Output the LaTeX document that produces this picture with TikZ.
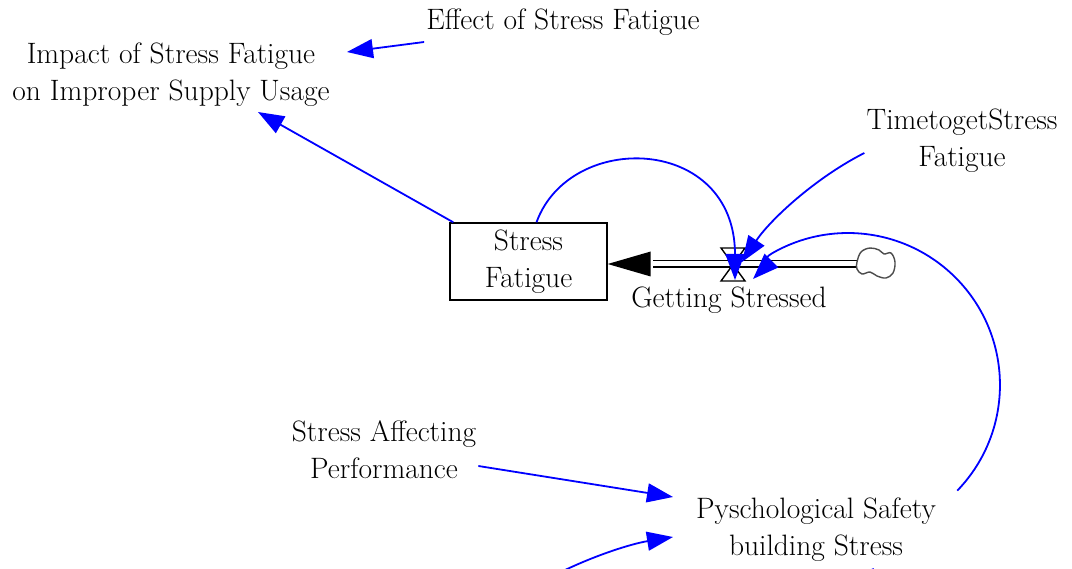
\documentclass[tikz,border=0pt]{standalone}
\usepackage{fontspec}
\usetikzlibrary{arrows.meta}
\definecolor{linkblue}{RGB}{0,0,255}
\begin{document}
\begin{tikzpicture}[x=1pt,y=1pt,
  lbl/.style={font=\rmfamily\fontsize{29.5}{37}\selectfont, align=center, inner sep=0pt},
  link/.style={draw=linkblue, line width=1.8pt, -{Triangle[length=26pt,width=19pt]}},
  pipe/.style={draw=black, line width=1.5pt, double=white, double distance=5pt}
]
\useasboundingbox (0,0) rectangle (1072,-569);
\clip (0,0) rectangle (1072,-569);

% variables
\node[lbl] (effect) at (563,-22) {Effect of Stress Fatigue};
\node[lbl] (impact) at (171,-75) {Impact of Stress Fatigue\\on Improper Supply Usage};
\node[lbl] (timeto) at (962,-141) {TimetogetStress\\Fatigue};
\node[lbl] (affect) at (384,-450) {Stress Affecting\\Performance};
\node[lbl] (psych) at (816,-530) {Pyschological Safety\\building Stress};

% stock
\node[draw, line width=1.4pt, minimum width=157pt, minimum height=77pt, inner sep=0pt,
      font=\rmfamily\fontsize{29.5}{37}\selectfont, align=center] (stock) at (528.5,-261.5) {Stress\\Fatigue};

% flow pipe, valve and source cloud
\coordinate (valvec) at (733,-264);
\coordinate (cloudw) at (857,-264);
\coordinate (headbase) at (653,-264);
\draw[pipe] (cloudw) -- (headbase);
\fill (stock.east |- valvec) -- ++(43,12.5) -- ++(0,-25) -- cycle;
\draw[line width=1.4pt, fill=white] (721,-248) -- (745,-248) -- (721,-281) -- (745,-281) -- cycle;
\node[lbl] (flow) at (729,-300) {Getting Stressed};
\draw[black!70, line width=1.4pt, fill=white]
  plot[smooth cycle, tension=0.6] coordinates {(857,-262) (861,-252) (870,-248) (879,-250) (884,-254) (891,-253) (895,-262) (893,-273) (886,-278) (877,-276) (870,-272) (862,-274) (857,-269)};
\node[inner sep=0pt] (cloud) at (875,-263) {};

% influence links
\coordinate (tipA) at (347,-52);
\coordinate (tipB) at (258,-112);
\coordinate (tipC) at (735,-280);
\coordinate (tipD) at (742,-262);
\coordinate (tipE) at (753,-279);
\coordinate (tipF) at (673,-497);
\coordinate (tipG) at (673,-537);
\coordinate (psychout) at (957.3,-490.6);
\draw[link] (effect.west) ++(-2,-20) -- (tipA);
\draw[link] (stock.north west) ++(4,0) -- (tipB);
\draw[link] (stock.north) ++(8,0) .. controls (570,-130) and (735,-135) .. (tipC);
\draw[link] (timeto.west) ++(-2,-12) .. controls (815,-178) and (770,-220) .. (tipD);
\draw[link] (psychout) arc[start angle=-44, end angle=120, radius=152]
  .. controls (763,-258) and (760,-272) .. (tipE);
\draw[link] (affect.east) ++(2,-16) -- (tipF);
\draw[link] (555,-575) .. controls (590,-557) and (630,-544) .. (tipG);
\draw[link] (820,-620) .. controls (845,-600) and (860,-580) .. (874,-568);
\end{tikzpicture}
\end{document}
